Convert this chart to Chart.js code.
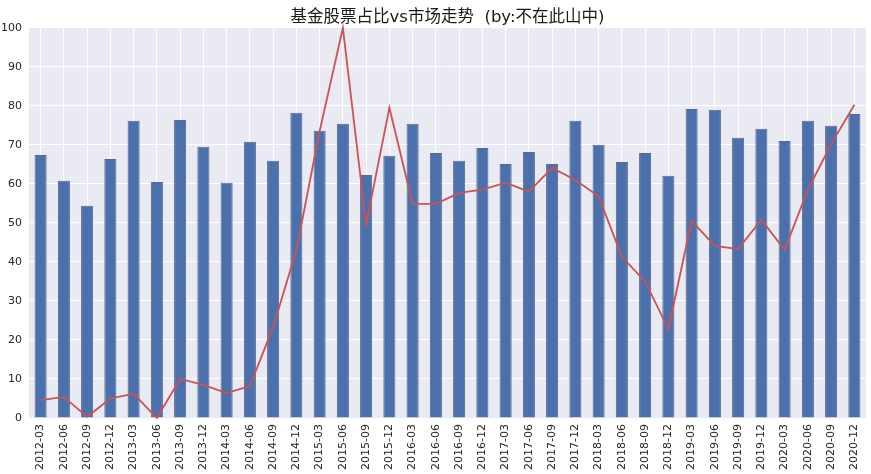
<!DOCTYPE html>
<html lang="zh">
<head>
<meta charset="UTF-8">
<title>基金股票占比vs市场走势</title>
<style>
body { margin:0; padding:0; background:#fff; }
#wrap { width:871px; height:474px; }
</style>
</head>
<body>
<div id="wrap"><canvas id="fundChart" width="871" height="474"></canvas></div>
<script src="https://cdn.jsdelivr.net/npm/chart.js"></script>
<script>
const quarters = ['2012-03','2012-06','2012-09','2012-12','2013-03','2013-06','2013-09','2013-12',
  '2014-03','2014-06','2014-09','2014-12','2015-03','2015-06','2015-09','2015-12',
  '2016-03','2016-06','2016-09','2016-12','2017-03','2017-06','2017-09','2017-12',
  '2018-03','2018-06','2018-09','2018-12','2019-03','2019-06','2019-09','2019-12',
  '2020-03','2020-06','2020-09','2020-12'];

// fund stock share (bars)
const stockShare = [67.4, 60.8, 54.4, 66.4, 76.2, 60.5, 76.4, 69.5,
  60.3, 70.8, 65.9, 78.2, 73.6, 75.4, 62.3, 67.2,
  75.4, 67.9, 65.9, 69.2, 65.1, 68.2, 65.1, 76.2,
  70.0, 65.6, 67.9, 62.1, 79.2, 79.0, 71.8, 74.1,
  71.0, 76.2, 74.9, 77.9];

// market trend (line)
const marketTrend = [4.6, 5.4, 0.3, 5.0, 6.2, 0.0, 10.0, 8.5,
  6.4, 8.2, 23.3, 43.0, 73.5, 100.0, 49.6, 79.5,
  54.9, 54.9, 57.7, 58.5, 60.3, 58.0, 64.1, 61.0,
  56.8, 41.3, 35.0, 22.8, 50.5, 44.1, 43.3, 50.8,
  43.1, 58.5, 70.2, 80.3];

const yTicks = [0, 10, 20, 30, 40, 50, 60, 70, 80, 90, 100];

const axisFont = { family: 'DejaVu Sans', size: 11 };

// seaborn-ish grey plot background
const plotBg = {
  id: 'plotBg',
  beforeDraw(chart) {
    const { ctx, chartArea: a } = chart;
    ctx.save();
    ctx.fillStyle = '#EAEAF2';
    ctx.fillRect(a.left, a.top, a.right - a.left, a.bottom - a.top);
    ctx.restore();
  }
};

const ctx = document.getElementById('fundChart').getContext('2d');
new Chart(ctx, {
  data: {
    labels: quarters,
    datasets: [
      { type: 'line', data: marketTrend, borderColor: '#C95356', borderWidth: 1.8,
        pointRadius: 0, tension: 0, fill: false, order: 0, clip: false },
      { type: 'bar', data: stockShare, backgroundColor: '#4A70AE',
        borderColor: 'rgba(55,70,105,0.8)', borderWidth: 1,
        barPercentage: 0.52, categoryPercentage: 1.0, order: 1 }
    ]
  },
  options: {
    responsive: false,
    animation: false,
    layout: { padding: { left: 0, right: 5, top: 0, bottom: 0 } },
    plugins: {
      legend: { display: false },
      tooltip: { enabled: false },
      title: {
        display: true,
        fullSize: false,
        text: '基金股票占比vs市场走势  (by:不在此山中)',
        color: '#1a1a1a',
        font: { family: "'DejaVu Sans', 'Noto Sans CJK SC'", size: 16.5, weight: 'normal' },
        padding: { top: 8, bottom: 0 }
      }
    },
    scales: {
      x: {
        offset: true,
        grid: { color: '#ffffff', lineWidth: 1, offset: false, drawTicks: false },
        border: { display: false },
        ticks: { color: '#262626', font: axisFont, minRotation: 90, maxRotation: 90,
                 autoSkip: false, padding: 6 },
        afterFit(scale) { scale.height = 56; scale.paddingLeft = 0; scale.paddingRight = 0; }
      },
      y: {
        min: 0, max: 100,
        afterBuildTicks(scale) { scale.ticks = yTicks.map(v => ({ value: v })); },
        grid: { color: '#ffffff', lineWidth: 1, drawTicks: false },
        border: { display: false },
        ticks: { color: '#262626', font: axisFont, padding: 7 },
        afterFit(scale) { scale.width = 29; scale.paddingTop = 0; scale.paddingBottom = 0; }
      }
    }
  },
  plugins: [plotBg]
});
</script>
</body>
</html>
